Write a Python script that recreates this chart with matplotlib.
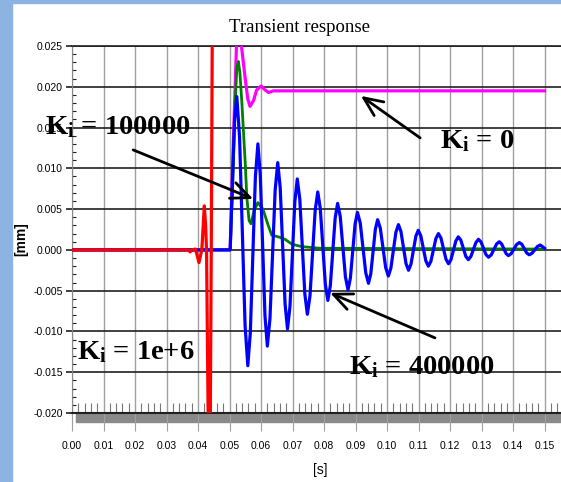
import numpy as np
import matplotlib
matplotlib.use('Agg')
import matplotlib.pyplot as plt
from matplotlib.patches import Rectangle
from matplotlib.ticker import MultipleLocator, FuncFormatter

# curves (time [s], displacement [mm])
t_k0 = [0.0, 0.0502, 0.0512, 0.0522, 0.0530, 0.0539, 0.0550, 0.0558, 0.0565, 0.0576,
        0.0586, 0.0600, 0.0613, 0.0624, 0.0639, 0.15]
y_k0 = [0.0, 0.0, 0.0130, 0.0250, 0.0280, 0.0246, 0.0209, 0.0185, 0.0176, 0.0183,
        0.0196, 0.0201, 0.0196, 0.0193, 0.0195, 0.0195]

t_k1e5 = [0.0, 0.0502, 0.0510, 0.0518, 0.0523, 0.0528, 0.0533, 0.0539, 0.0550, 0.0555,
          0.0562, 0.0568, 0.0578, 0.0590, 0.0606, 0.0621, 0.0634, 0.0655, 0.0676,
          0.0698, 0.0729, 0.0787, 0.15]
y_k1e5 = [0.0, 0.0, 0.0080, 0.0181, 0.0222, 0.0231, 0.0217, 0.0181, 0.0105, 0.0064,
          0.0036, 0.0032, 0.0048, 0.0058, 0.0050, 0.0032, 0.0018, 0.0016, 0.0013,
          0.0007, 0.0004, 0.0002, 0.0001]

t_k4e5 = [0.0, 0.0502, 0.0508, 0.0516, 0.0523,
          0.05318, 0.05493, 0.0558, 0.0566, 0.0582, 0.0590, 0.05975, 0.06125, 0.0620,
          0.06283, 0.06448, 0.0653, 0.06608, 0.06763, 0.0684, 0.06918, 0.07073, 0.0715,
          0.0723, 0.0739, 0.0747, 0.07553, 0.07718, 0.0780, 0.0788, 0.0804, 0.0812,
          0.08198, 0.08353, 0.0843, 0.08513, 0.08678, 0.0876, 0.08835, 0.08985, 0.0906,
          0.09148, 0.09323, 0.0941, 0.09483, 0.09628, 0.0970, 0.09785, 0.09955, 0.1004,
          0.1012, 0.1028, 0.1036, 0.1044, 0.1060, 0.1068, 0.10758, 0.10913, 0.1099,
          0.1107, 0.1123, 0.1131, 0.1139, 0.1155, 0.1163, 0.1171, 0.1187, 0.1195,
          0.12028, 0.12183, 0.1226, 0.1234, 0.1250, 0.1258, 0.1266, 0.1282, 0.1290,
          0.1298, 0.1314, 0.1322, 0.13305, 0.13475, 0.1356, 0.13633, 0.13778, 0.1385,
          0.13938, 0.14113, 0.1420, 0.14278, 0.14433, 0.1451, 0.14598, 0.14773, 0.1486,
          0.1500]
y_k4e5 = [0.0, 0.0, 0.0070, 0.0160, 0.0188,
          0.01385, -0.00925, -0.0142, -0.01012, 0.00892, 0.0130, 0.00928, -0.00808, -0.0118,
          -0.00842, 0.00733, 0.0107, 0.00764, -0.00664, -0.0097, -0.00694, 0.00594, 0.0087,
          0.00621, -0.00541, -0.0079, -0.00565, 0.00485, 0.0071, 0.0051, -0.0042, -0.0062,
          -0.00441, 0.00392, 0.0057, 0.00411, -0.00331, -0.0049, -0.00347, 0.00318, 0.0046,
          0.0033, -0.0028, -0.0041, -0.00293, 0.00253, 0.0037, 0.00266, -0.00217, -0.0032,
          -0.00225, 0.00216, 0.0031, 0.00226, -0.00166, -0.0025, -0.00176, 0.00167, 0.0024,
          0.00174, -0.00134, -0.0020, -0.0014, 0.0014, 0.0020, 0.00145, -0.00115, -0.0017,
          -0.0012, 0.0011, 0.0016, 0.0012, -0.0008, -0.0012, -0.0008, 0.0009, 0.0013,
          0.00098, -0.00058, -0.0009, -0.00062, 0.00072, 0.0010, 0.00075, -0.00045, -0.0007,
          -0.00047, 0.00067, 0.0009, 0.00068, -0.00038, -0.0006, -0.00042, 0.00042, 0.0006,
          0.0002]

t_k1e6 = [0.0, 0.0370, 0.0375, 0.0380, 0.0392, 0.0403, 0.0412, 0.0420, 0.0424, 0.0427,
          0.0432, 0.0437, 0.0442, 0.0445, 0.0447]
y_k1e6 = [0.0, 0.0, -0.00025, 0.0, 0.0001, -0.00156, 0.0, 0.0054, 0.0030, 0.0,
          -0.0200, -0.0340, 0.0, 0.0250, 0.0350]

labels = [r'$\mathbf{K_i}$ = 100000', r'$\mathbf{K_i}$ = 0',
          r'$\mathbf{K_i}$ = 1e+6', r'$\mathbf{K_i}$ = 400000']

plt.rcParams['mathtext.fontset'] = 'custom'
plt.rcParams['mathtext.bf'] = 'Liberation Serif:bold'
plt.rcParams['mathtext.rm'] = 'Liberation Serif:bold'

narrow = ['Liberation Sans Narrow', 'Liberation Sans']

fig = plt.figure(figsize=(5.61, 4.82), dpi=100)
# light blue frame pieces
fig.patches.append(Rectangle((0, 0), 12 / 561, 1, transform=fig.transFigure,
                             color='#8db3e2', zorder=0))
fig.patches.append(Rectangle((0, 1 - 3 / 482), 1, 3 / 482, transform=fig.transFigure,
                             color='#8db3e2', zorder=0))

ax = fig.add_axes([72 / 561, 69 / 482, 489 / 561, 367 / 482])
ax.set_xlim(0, 0.1552)
ax.set_ylim(-0.020, 0.025)

ax.plot(t_k0, y_k0, color='#ff00ff', lw=2.3, zorder=3)
ax.plot(t_k1e5, y_k1e5, color='#008000', lw=2.0, zorder=4)
ax.plot(t_k4e5, y_k4e5, color='#0000ff', lw=2.3, zorder=5)
ax.plot(t_k1e6, y_k1e6, color='#ff0000', lw=2.3, zorder=6)

ax.xaxis.set_major_locator(MultipleLocator(0.01))
ax.xaxis.set_minor_locator(MultipleLocator(0.002))
ax.yaxis.set_major_locator(MultipleLocator(0.005))
ax.yaxis.set_minor_locator(MultipleLocator(0.001))
ax.xaxis.set_major_formatter(FuncFormatter(lambda v, p: f'{v:.2f}'))
ax.yaxis.set_major_formatter(FuncFormatter(lambda v, p: f'{v:.3f}'))

ax.grid(True, axis='y', color='#202020', lw=1.2)
ax.grid(True, axis='x', color='#a0a0a0', lw=1.0)

ax.spines['right'].set_visible(False)
ax.spines['top'].set_color('#202020')
ax.spines['top'].set_linewidth(1.2)
ax.spines['left'].set_color('#888888')
ax.spines['bottom'].set_color('#202020')
ax.spines['bottom'].set_linewidth(1.5)

ax.tick_params(axis='x', which='major', direction='out', length=13, color='#a0a0a0',
               pad=7, labelsize=7.5)
ax.tick_params(axis='x', which='minor', direction='in', length=7, color='#777777', width=0.8)
ax.tick_params(axis='y', which='major', direction='out', length=4, color='#202020',
               width=1.2, pad=2.5, labelsize=7.5)
ax.tick_params(axis='y', which='minor', direction='in', length=3, color='#202020', width=0.8)
for lab in ax.get_xticklabels() + ax.get_yticklabels():
    lab.set_family(narrow)

# shaded floor under the plot
ax.add_patch(Rectangle((0.008, -0.025), 0.992, 0.025, transform=ax.transAxes,
                       clip_on=False, color='#8a8a8a', zorder=1))

fig.text(299.5 / 561, 1 - 32 / 482, 'Transient response', ha='center', va='baseline',
         family='Liberation Serif', fontsize=13.5)
fig.text(21 / 561, 1 - 239 / 482, '[mm]', rotation=90, ha='center', va='center',
         family=narrow, weight='bold', fontsize=10)
fig.text(320 / 561, 1 - 470 / 482, '[s]', ha='center', va='center',
         family=narrow, fontsize=10)

txt = dict(family='Liberation Serif', weight='bold', fontsize=20.5, va='baseline',
           ha='left', clip_on=False, zorder=10)
ax.text(-0.0085, 0.0142, labels[0], **txt)
ax.text(0.1168, 0.0125, labels[1], **txt)
ax.text(0.0017, -0.0134, labels[2], **txt)
ax.text(0.0879, -0.0152, labels[3], **txt)

arr = dict(arrowstyle='->,head_length=0.9,head_width=0.4', lw=2, color='black',
           shrinkA=0, shrinkB=0, mutation_scale=15)
ax.annotate('', xy=(0.0575, 0.00625), xytext=(0.0194, 0.01226), arrowprops=arr, zorder=10)
ax.annotate('', xy=(0.0917, 0.01888), xytext=(0.1105, 0.01373), arrowprops=arr, zorder=10)
ax.annotate('', xy=(0.0819, -0.00527), xytext=(0.1152, -0.01079), arrowprops=arr, zorder=10)

fig.savefig('out.png', dpi=100)
